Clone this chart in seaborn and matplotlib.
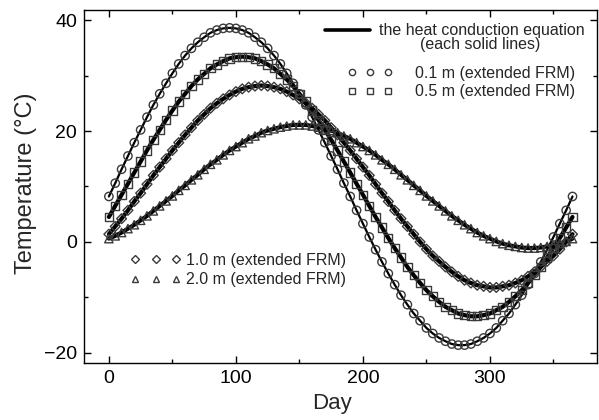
import matplotlib
matplotlib.use("Agg")
import matplotlib.pyplot as plt
from matplotlib.lines import Line2D
import seaborn as sns

#   day of year, every 5 days
days = list(range(0, 366, 5))

#   temperatures (deg C), one list per depth
t_01m = [8.2, 10.6, 13.1, 15.5, 17.9, 20.2, 22.5, 24.7, 26.7, 28.6,
         30.4, 32.1, 33.6, 34.9, 36.0, 36.9, 37.7, 38.2, 38.5, 38.6,
         38.5, 38.2, 37.7, 36.9, 36.0, 34.9, 33.6, 32.1, 30.4, 28.6,
         26.7, 24.7, 22.5, 20.2, 17.9, 15.5, 13.1, 10.6, 8.2, 5.7,
         3.3, 0.9, -1.4, -3.6, -5.7, -7.7, -9.6, -11.3, -12.9, -14.2,
         -15.5, -16.5, -17.3, -17.9, -18.4, -18.6, -18.6, -18.4, -17.9, -17.3,
         -16.5, -15.5, -14.2, -12.9, -11.3, -9.6, -7.7, -5.7, -3.6, -1.4,
         0.9, 3.3, 5.7, 8.2]
t_05m = [4.5, 6.5, 8.5, 10.5, 12.5, 14.5, 16.5, 18.4, 20.2, 22.0,
         23.7, 25.3, 26.7, 28.1, 29.3, 30.3, 31.3, 32.0, 32.6, 33.1,
         33.3, 33.4, 33.3, 33.1, 32.6, 32.0, 31.3, 30.3, 29.3, 28.1,
         26.7, 25.3, 23.7, 22.0, 20.2, 18.4, 16.5, 14.5, 12.5, 10.5,
         8.5, 6.5, 4.5, 2.6, 0.7, -1.1, -2.8, -4.5, -6.0, -7.4,
         -8.7, -9.8, -10.8, -11.7, -12.3, -12.9, -13.2, -13.4, -13.4, -13.2,
         -12.9, -12.3, -11.7, -10.8, -9.8, -8.7, -7.4, -6.0, -4.5, -2.8,
         -1.1, 0.7, 2.6, 4.5]
t_10m = [1.4, 2.8, 4.2, 5.7, 7.3, 8.8, 10.4, 12.0, 13.5, 15.0,
         16.5, 17.9, 19.3, 20.6, 21.9, 23.0, 24.1, 25.0, 25.8, 26.5,
         27.1, 27.6, 27.9, 28.1, 28.2, 28.1, 27.9, 27.6, 27.1, 26.5,
         25.8, 25.0, 24.1, 23.0, 21.9, 20.6, 19.3, 17.9, 16.5, 15.0,
         13.5, 12.0, 10.4, 8.8, 7.3, 5.7, 4.2, 2.8, 1.4, 0.0,
         -1.3, -2.5, -3.5, -4.5, -5.4, -6.2, -6.9, -7.4, -7.8, -8.0,
         -8.2, -8.2, -8.0, -7.8, -7.4, -6.9, -6.2, -5.4, -4.5, -3.5,
         -2.5, -1.3, 0.0, 1.4]
t_20m = [0.6, 1.1, 1.7, 2.4, 3.1, 3.9, 4.7, 5.6, 6.5, 7.4,
         8.3, 9.3, 10.2, 11.2, 12.1, 13.1, 14.0, 14.8, 15.7, 16.5,
         17.2, 17.9, 18.6, 19.1, 19.7, 20.1, 20.4, 20.7, 20.9, 21.1,
         21.1, 21.1, 20.9, 20.7, 20.4, 20.1, 19.7, 19.1, 18.6, 17.9,
         17.2, 16.5, 15.7, 14.8, 14.0, 13.1, 12.1, 11.2, 10.2, 9.3,
         8.3, 7.4, 6.5, 5.6, 4.7, 3.9, 3.1, 2.4, 1.7, 1.1,
         0.6, 0.1, -0.3, -0.6, -0.8, -1.0, -1.1, -1.1, -1.0, -0.8,
         -0.6, -0.3, 0.1, 0.6]

#   (values, marker, marker size, line width)
series = [(t_01m, 'o', 6.0, 1.6), (t_05m, 's', 6.0, 3.0),
          (t_10m, 'D', 5.0, 3.0), (t_20m, '^', 6.0, 3.0)]
mk_col = '#3a3a3a'

sns.set_theme(style="ticks")
plt.rcParams['font.family'] = ['Liberation Sans', 'DejaVu Sans']

fig = plt.figure(figsize=(5.99, 4.2), dpi=100)
ax = fig.add_axes([0.140, 0.136, 0.8567, 0.840])

#   solid lines (heat conduction equation) then hollow markers (extended FRM)
for vals, mk, ms, lw in series:
    sns.lineplot(x=days, y=vals, ax=ax, color='black', lw=lw, legend=False)
for vals, mk, ms, lw in series:
    sns.scatterplot(x=days, y=vals, ax=ax, marker=mk, s=ms ** 2,
                    facecolor='none', edgecolor=mk_col, linewidth=1.0,
                    legend=False, zorder=3)

ax.set_xlim(-19.7, 384.3)
ax.set_ylim(-21.8, 41.8)
ax.set_xticks([0, 100, 200, 300])
ax.set_xticks([50, 150, 250, 350], minor=True)
ax.set_yticks([-20, 0, 20, 40])
ax.set_yticks([-10, 10, 30], minor=True)
ax.set_yticklabels(['\u221220', '0', '20', '40'])
ax.tick_params(which='both', direction='in', top=True, right=True,
               colors='black', width=1.0)
ax.tick_params(which='major', length=5, labelsize=14, pad=5)
ax.tick_params(which='minor', length=3)
for sp in ax.spines.values():
    sp.set_color('black')
    sp.set_linewidth(1.0)

ax.set_xlabel('Day', fontsize=16)
ax.set_ylabel('Temperature (\u00b0C)', fontsize=17)
ax.xaxis.set_label_coords(0.483, -0.085)
ax.yaxis.set_label_coords(-0.092, 0.51)

fs = 11.5
h_line = [Line2D([], [], color='black', lw=2.6)]
legA = fig.legend(h_line, ['the heat conduction equation'],
                  loc='upper left', bbox_to_anchor=(0.5426, 0.945),
                  frameon=False, fontsize=fs, handlelength=2.8,
                  handletextpad=0.56, borderpad=0, borderaxespad=0)
fig.text(0.802, 0.893, '(each solid lines)', fontsize=fs, ha='center',
         va='center')

def mk_handle(mk, ms):
    return Line2D([], [], ls='none', marker=mk, ms=ms * 0.75, mfc='none',
                  mec=mk_col, mew=1.0)

legB = fig.legend([mk_handle('o', 6.0), mk_handle('s', 6.0)],
                  ['0.1 m (extended FRM)', '0.5 m (extended FRM)'],
                  loc='upper left', bbox_to_anchor=(0.579, 0.843),
                  frameon=False, fontsize=fs, numpoints=3, handlelength=2.85,
                  handletextpad=1.4, labelspacing=0.22, borderpad=0,
                  borderaxespad=0)
legC = fig.legend([mk_handle('D', 5.0), mk_handle('^', 6.0)],
                  ['1.0 m (extended FRM)', '2.0 m (extended FRM)'],
                  loc='upper left', bbox_to_anchor=(0.217, 0.398),
                  frameon=False, fontsize=fs, numpoints=3, handlelength=3.2,
                  handletextpad=0.3, labelspacing=0.29, borderpad=0,
                  borderaxespad=0)

fig.savefig('out.png', dpi=100)
